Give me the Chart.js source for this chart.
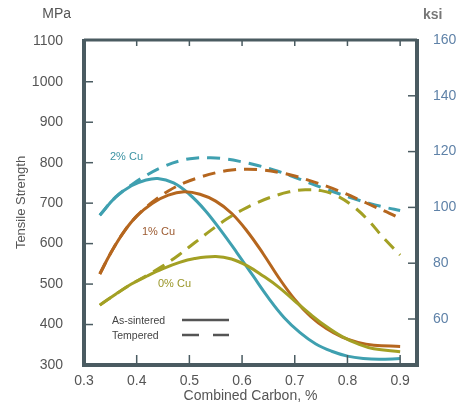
<!DOCTYPE html>
<html><head><meta charset="utf-8">
<script src="https://cdn.jsdelivr.net/npm/chart.js@4/dist/chart.umd.min.js"></script>
<style>html,body{margin:0;padding:0;background:#fff;}canvas{display:block;}</style>
</head><body>
<canvas id="c" width="458" height="407"></canvas>
<script>
// ---- data (MPa vs combined carbon %) ----
const xTicks = [0.3, 0.4, 0.5, 0.6, 0.7, 0.8, 0.9];
const mpaTicks = [300, 400, 500, 600, 700, 800, 900, 1000, 1100];
const ksiTicks = [60, 80, 100, 120, 140, 160];

const cu2SintX = [0.33, 0.36, 0.39, 0.415, 0.44, 0.47, 0.50, 0.53, 0.56, 0.59, 0.62, 0.65, 0.68, 0.71, 0.74, 0.77, 0.80, 0.83, 0.86, 0.9];
const cu2SintY = [670, 715, 743, 756, 761, 750, 722, 682, 632, 578, 522, 466, 417, 380, 352, 334, 322, 316, 314, 316];
const cu1SintX = [0.33, 0.35, 0.375, 0.40, 0.43, 0.46, 0.49, 0.52, 0.55, 0.58, 0.61, 0.64, 0.67, 0.70, 0.73, 0.76, 0.79, 0.82, 0.85, 0.9];
const cu1SintY = [525, 575, 628, 668, 700, 720, 728, 722, 705, 675, 630, 575, 515, 462, 420, 390, 369, 356, 349, 346];
const cu0SintX = [0.33, 0.36, 0.39, 0.42, 0.45, 0.48, 0.51, 0.55, 0.58, 0.61, 0.64, 0.67, 0.70, 0.73, 0.76, 0.79, 0.82, 0.85, 0.9];
const cu0SintY = [448, 475, 500, 520, 538, 553, 563, 568, 562, 545, 520, 492, 458, 425, 395, 370, 352, 340, 333];

const cu2TempX = [0.33, 0.36, 0.39, 0.42, 0.45, 0.48, 0.51, 0.54, 0.57, 0.60, 0.63, 0.66, 0.69, 0.72, 0.75, 0.78, 0.81, 0.84, 0.87, 0.9];
const cu2TempY = [670, 715, 745, 770, 790, 804, 811, 812, 809, 802, 793, 782, 769, 754, 739, 725, 712, 700, 690, 682];
const cu1TempX = [0.33, 0.35, 0.375, 0.40, 0.43, 0.46, 0.49, 0.52, 0.55, 0.58, 0.61, 0.64, 0.67, 0.70, 0.73, 0.76, 0.79, 0.82, 0.85, 0.88, 0.9];
const cu1TempY = [525, 575, 628, 668, 703, 730, 750, 764, 775, 782, 784, 782, 776, 767, 755, 742, 727, 710, 692, 675, 662];
const cu0TempX = [0.33, 0.36, 0.39, 0.42, 0.45, 0.48, 0.51, 0.54, 0.57, 0.60, 0.63, 0.66, 0.69, 0.72, 0.75, 0.78, 0.81, 0.84, 0.87, 0.9];
const cu0TempY = [448, 475, 500, 522, 545, 572, 602, 632, 660, 683, 702, 717, 728, 733, 731, 718, 693, 657, 612, 572];

const KSI = 6.895;
const TEAL = '#3fa0b0', ORANGE = '#b5661e', OLIVE = '#a3a024';
const FRAME = '#4a5b61';
const FONT = '"Liberation Sans", Arial, sans-serif';

function pts(xs, ys) { return xs.map((x, i) => ({x: x, y: ys[i]})); }
function ds(label, xs, ys, color, dashed) {
  return {
    label: label, data: pts(xs, ys), borderColor: color, backgroundColor: color,
    borderWidth: 3, pointRadius: 0, tension: 0.4, fill: false,
    borderDash: dashed ? [13, 8] : [], borderCapStyle: 'butt', yAxisID: 'y'
  };
}

const framePlugin = {
  id: 'frame',
  afterDatasetsDraw(chart) {
    const {ctx, chartArea: a, scales} = chart;
    ctx.save();
    ctx.strokeStyle = FRAME;
    ctx.lineWidth = 1.5;
    // inward ticks
    mpaTicks.forEach(v => { if (v > 300 && v < 1100) { const y = scales.y.getPixelForValue(v);
      ctx.beginPath(); ctx.moveTo(a.left, y); ctx.lineTo(a.left + 9, y); ctx.stroke(); } });
    ksiTicks.forEach(v => { if (v < 160) { const y = scales.y2.getPixelForValue(v);
      ctx.beginPath(); ctx.moveTo(a.right, y); ctx.lineTo(a.right - 9, y); ctx.stroke(); } });
    xTicks.forEach(v => { if (v > 0.3) { const x = scales.x.getPixelForValue(v);
      ctx.beginPath(); ctx.moveTo(x, a.bottom); ctx.lineTo(x, a.bottom - 10); ctx.stroke();
      ctx.beginPath(); ctx.moveTo(x, a.top); ctx.lineTo(x, a.top + 6); ctx.stroke(); } });
    // frame
    ctx.lineWidth = 4;
    ctx.beginPath(); ctx.moveTo(a.left, a.top - 1); ctx.lineTo(a.left, a.bottom); ctx.lineTo(a.right, a.bottom); ctx.lineTo(a.right, a.top - 1); ctx.stroke();
    ctx.lineWidth = 3;
    ctx.beginPath(); ctx.moveTo(a.left, a.top); ctx.lineTo(a.right, a.top); ctx.stroke();
    // units
    ctx.textBaseline = 'middle';
    ctx.fillStyle = '#555'; ctx.font = '14px ' + FONT; ctx.textAlign = 'right';
    ctx.fillText('MPa', 71, 14);
    ctx.fillStyle = '#777'; ctx.font = 'bold 14px ' + FONT; ctx.textAlign = 'left';
    ctx.fillText('ksi', 423, 15);
    // series labels
    ctx.font = '11px ' + FONT;
    ctx.fillStyle = '#3b93a3'; ctx.fillText('2% Cu', 110, 157);
    ctx.fillStyle = '#9c5a30'; ctx.fillText('1% Cu', 142, 232);
    ctx.fillStyle = '#9a9628'; ctx.fillText('0% Cu', 158, 284);
    // legend
    ctx.fillStyle = '#444'; ctx.font = '10.5px ' + FONT;
    ctx.fillText('As-sintered', 112, 321);
    ctx.fillText('Tempered', 112, 336);
    ctx.strokeStyle = '#555'; ctx.lineWidth = 2.5;
    ctx.beginPath(); ctx.moveTo(182, 320); ctx.lineTo(229, 320); ctx.stroke();
    ctx.beginPath(); ctx.moveTo(182, 335); ctx.lineTo(199, 335); ctx.moveTo(213, 335); ctx.lineTo(229, 335); ctx.stroke();
    ctx.restore();
  }
};

new Chart(document.getElementById('c'), {
  type: 'line',
  data: { datasets: [
    ds('0% Cu as-sintered', cu0SintX, cu0SintY, OLIVE, false),
    ds('0% Cu tempered', cu0TempX, cu0TempY, OLIVE, true),
    ds('1% Cu as-sintered', cu1SintX, cu1SintY, ORANGE, false),
    ds('1% Cu tempered', cu1TempX, cu1TempY, ORANGE, true),
    ds('2% Cu as-sintered', cu2SintX, cu2SintY, TEAL, false),
    ds('2% Cu tempered', cu2TempX, cu2TempY, TEAL, true)
  ]},
  options: {
    responsive: false, animation: false, devicePixelRatio: 1,
    layout: { padding: { top: 40, left: 0, right: 0, bottom: 0 } },
    plugins: { legend: { display: false }, tooltip: { enabled: false } },
    scales: {
      x: {
        type: 'linear', min: 0.3, max: 0.932,
        afterBuildTicks: s => { s.ticks = xTicks.map(v => ({value: v})); },
        afterFit: s => { s.height = 42; },
        grid: { display: false }, border: { display: false },
        ticks: { padding: 0, color: '#555', font: { family: FONT, size: 14 }, callback: v => v.toFixed(1), maxRotation: 0 },
        title: { display: true, text: 'Combined Carbon, %', color: '#555', font: { family: FONT, size: 14 }, padding: { top: 0, bottom: 2 } }
      },
      y: {
        type: 'linear', position: 'left', min: 300, max: 160 * KSI,
        afterBuildTicks: s => { s.ticks = mpaTicks.map(v => ({value: v})); },
        afterFit: s => { s.width = 84; },
        grid: { display: false }, border: { display: false },
        ticks: { padding: 13, color: '#555', font: { family: FONT, size: 14 }, callback: v => String(v) },
        title: { display: true, text: 'Tensile Strength', color: '#555', font: { family: FONT, size: 13 }, padding: { top: 14, bottom: 0 } }
      },
      y2: {
        type: 'linear', position: 'right', min: 300 / KSI, max: 160,
        afterBuildTicks: s => { s.ticks = ksiTicks.map(v => ({value: v})); },
        afterFit: s => { s.width = 41; },
        grid: { display: false }, border: { display: false },
        ticks: { padding: 8, color: '#5f82a8', font: { family: FONT, size: 14 }, callback: v => String(v) }
      }
    }
  },
  plugins: [framePlugin]
});
</script>
</body></html>
